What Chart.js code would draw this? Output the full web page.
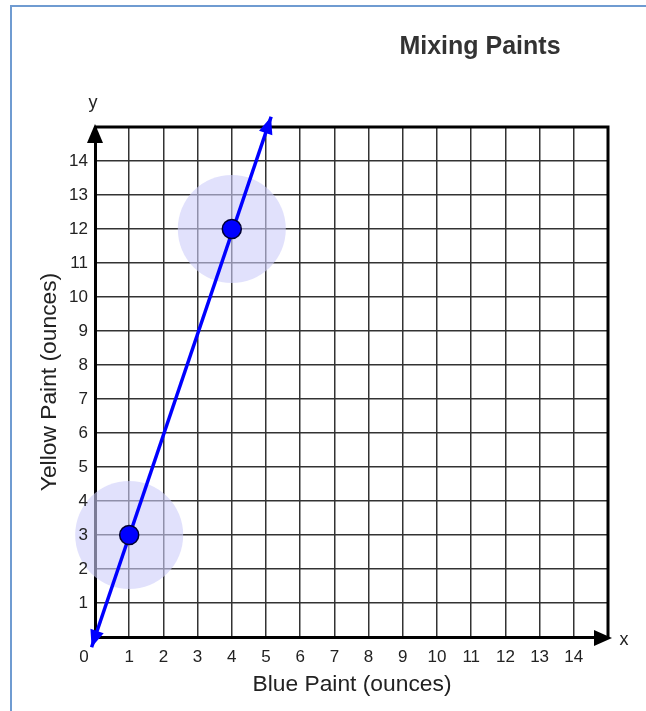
<!DOCTYPE html>
<html>
<head>
<meta charset="utf-8">
<script src="https://cdn.jsdelivr.net/npm/chart.js@4/dist/chart.umd.min.js"></script>
<style>
  html, body { margin: 0; padding: 0; background: #fff; overflow: hidden; }
  #wrap { position: relative; width: 646px; height: 711px; overflow: hidden; }
  #frame { position: absolute; left: 10px; top: 5px; width: 660px; height: 720px; border: 2px solid #6f9bd1; }
</style>
</head>
<body>
<div id="wrap">
  <div id="frame"></div>
  <canvas id="paintChart" width="646" height="711" style="position:absolute;left:0;top:0"></canvas>
</div>
<script>
const chartTitle = 'Mixing Paints';
const xTitle = 'Blue Paint (ounces)';
const yTitle = 'Yellow Paint (ounces)';
const axisMin = 0;
const axisMax = 15;
const markedX = [1, 4];
const markedY = [3, 12];
const lineX = [-0.1, 5.15];
const lineY = [-0.3, 15.3];

const FONT = 'Arial, "Liberation Sans", sans-serif';

function toPoints(xs, ys) {
  return xs.map((x, i) => ({ x: x, y: ys[i] }));
}

function arrowHead(ctx, x1, y1, x2, y2, len, half, color) {
  const a = Math.atan2(y2 - y1, x2 - x1);
  ctx.save();
  ctx.fillStyle = color;
  ctx.beginPath();
  ctx.moveTo(x2, y2);
  ctx.lineTo(x2 - len * Math.cos(a) + half * Math.sin(a), y2 - len * Math.sin(a) - half * Math.cos(a));
  ctx.lineTo(x2 - len * Math.cos(a) - half * Math.sin(a), y2 - len * Math.sin(a) + half * Math.cos(a));
  ctx.closePath();
  ctx.fill();
  ctx.restore();
}

// frame lines, arrows and loose labels
const decorations = {
  id: 'decorations',
  afterDatasetsDraw(chart) {
    const ctx = chart.ctx;
    const a = chart.chartArea;
    const xs = chart.scales.x, ys = chart.scales.y;

    ctx.save();
    ctx.strokeStyle = '#000';
    ctx.lineWidth = 3;
    ctx.beginPath();
    ctx.moveTo(a.left, a.top);
    ctx.lineTo(a.right, a.top);
    ctx.lineTo(a.right, a.bottom);
    ctx.stroke();

    // axis arrows
    arrowHead(ctx, a.left, a.bottom, a.left, a.top - 3, 19, 8, '#000');
    arrowHead(ctx, a.left, a.bottom + 1, a.right + 4, a.bottom + 1, 18, 8, '#000');

    // blue line arrows
    const p0x = xs.getPixelForValue(lineX[0]), p0y = ys.getPixelForValue(lineY[0]);
    const p1x = xs.getPixelForValue(lineX[1]), p1y = ys.getPixelForValue(lineY[1]);
    arrowHead(ctx, p1x, p1y, p0x, p0y, 17, 7, '#0000ff');
    arrowHead(ctx, p0x, p0y, p1x, p1y, 17, 7, '#0000ff');

    ctx.fillStyle = '#222';
    ctx.font = '17px ' + FONT;
    ctx.textAlign = 'center';
    ctx.textBaseline = 'middle';
    ctx.fillText('0', a.left - 11, a.bottom + 20);
    ctx.font = '18px ' + FONT;
    ctx.fillText('x', a.right + 16, a.bottom + 3);
    ctx.fillText('y', a.left - 2, a.top - 24);

    ctx.font = '22.8px ' + FONT;
    ctx.fillText(xTitle, 352, a.bottom + 48);
    ctx.save();
    ctx.translate(50, 382);
    ctx.rotate(-Math.PI / 2);
    ctx.fillText(yTitle, 0, 0);
    ctx.restore();

    ctx.fillStyle = '#333';
    ctx.font = 'bold 25px ' + FONT;
    ctx.fillText(chartTitle, 480, 47);
    ctx.restore();
  }
};

const ctx = document.getElementById('paintChart').getContext('2d');
new Chart(ctx, {
  type: 'scatter',
  data: {
    datasets: [
      {
        label: 'line',
        data: toPoints(lineX, lineY),
        showLine: true,
        borderColor: '#0000ff',
        borderWidth: 3.5,
        pointRadius: 0,
        clip: false,
        order: 2
      },
      {
        label: 'halo',
        data: toPoints(markedX, markedY),
        pointRadius: 54,
        backgroundColor: 'rgba(205,205,250,0.6)',
        borderWidth: 0,
        clip: false,
        order: 3
      },
      {
        label: 'points',
        data: toPoints(markedX, markedY),
        pointRadius: 9.5,
        backgroundColor: '#0000ff',
        borderColor: '#000033',
        borderWidth: 1.5,
        order: 1
      }
    ]
  },
  options: {
    responsive: false,
    animation: false,
    events: [],
    layout: { autoPadding: false, padding: { top: 127, right: 38, left: 0, bottom: 0 } },
    plugins: {
      legend: { display: false },
      tooltip: { enabled: false }
    },
    scales: {
      x: {
        type: 'linear',
        min: axisMin,
        max: axisMax,
        afterFit(scale) { scale.height = 74; },
        ticks: {
          stepSize: 1,
          padding: 10,
          color: '#222',
          font: { family: FONT, size: 17 },
          maxRotation: 0,
          autoSkip: false,
          z: 1,
          callback: v => (v > axisMin && v < axisMax ? String(v) : '')
        },
        grid: { color: '#333', lineWidth: 1.5, drawTicks: false },
        border: { color: '#000', width: 3 }
      },
      y: {
        type: 'linear',
        min: axisMin,
        max: axisMax,
        afterFit(scale) { scale.width = 95; },
        ticks: {
          stepSize: 1,
          padding: 7,
          color: '#222',
          font: { family: FONT, size: 17 },
          autoSkip: false,
          z: 1,
          callback: v => (v > axisMin && v < axisMax ? String(v) : '')
        },
        grid: { color: '#333', lineWidth: 1.5, drawTicks: false },
        border: { color: '#000', width: 3 }
      }
    }
  },
  plugins: [decorations]
});
</script>
</body>
</html>
